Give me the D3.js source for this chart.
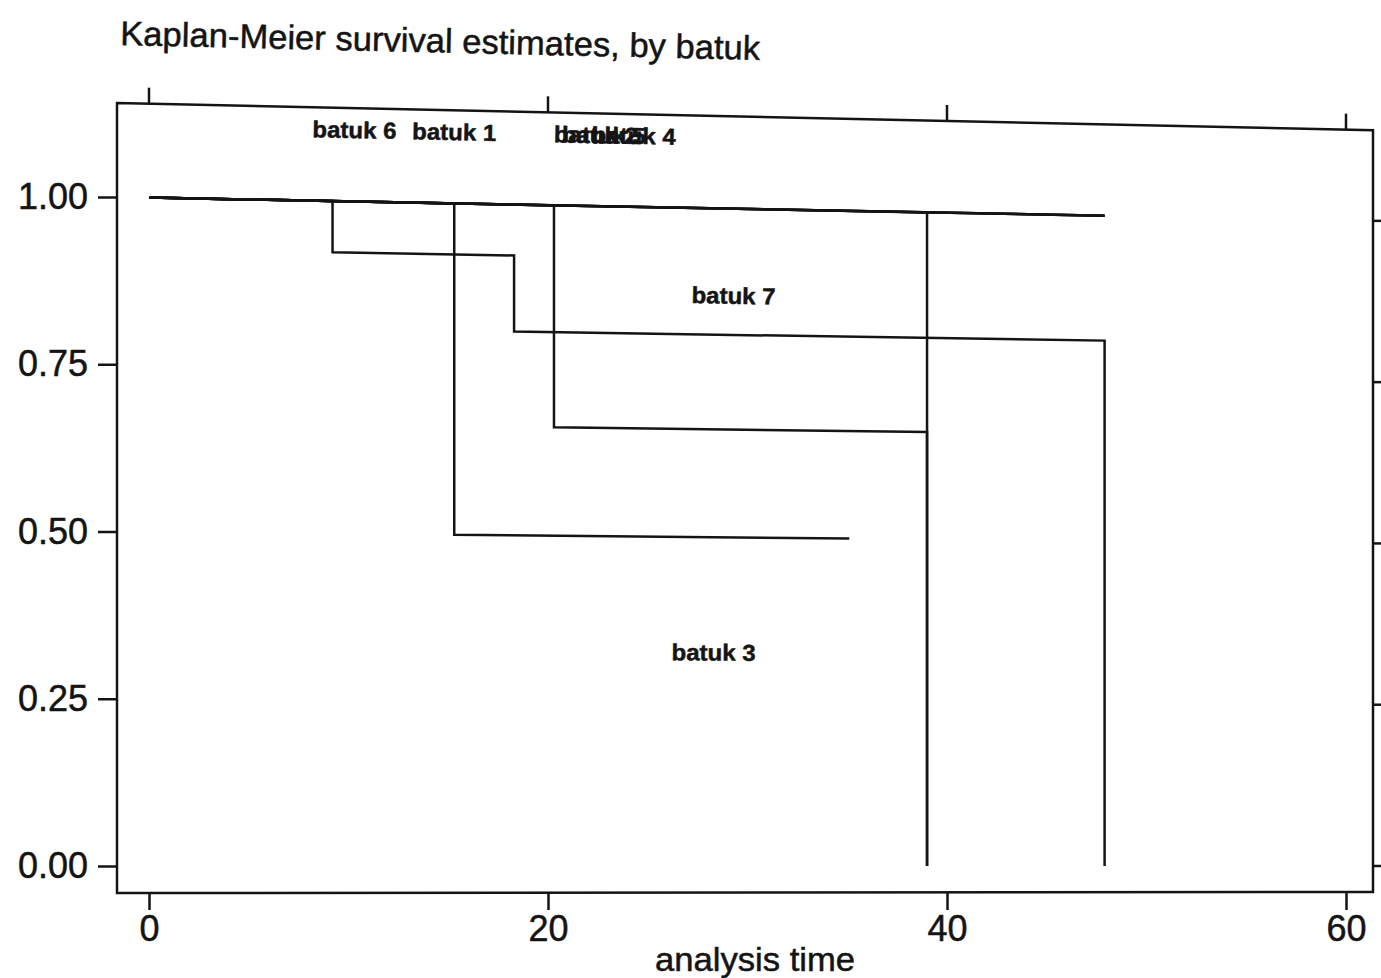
<!DOCTYPE html>
<html>
<head>
<meta charset="utf-8">
<script src="https://cdn.jsdelivr.net/npm/d3@7"></script>
<style>
  html, body { margin: 0; padding: 0; background: #fff; }
  svg { display: block; }
  text { font-family: "Liberation Sans", Arial, Helvetica, sans-serif; fill: #141414; stroke: #141414; stroke-width: 0.5px; }
</style>
</head>
<body>
<svg id="chart" width="1381" height="978"></svg>
<script>
// Kaplan-Meier survival estimates, one step curve per cough group (batuk)
const groupNames = ["batuk 1", "batuk 2", "batuk 3", "batuk 4", "batuk 5", "batuk 6", "batuk 7"];
// failure times (analysis time) and the survival estimate right after each failure
const eventTimes = [[15.3], [20.3, 39.0], [39.0], [], [], [9.2, 18.3, 47.9], []];
const survivalAfter = [[0.50], [0.664, 0], [0], [], [], [0.923, 0.808, 0], []];
// last follow-up time of each group
const followUpEnd = [35.1, 39.0, 39.0, 47.9, 47.9, 47.9, 47.9];
// where each group's name is printed (analysis time, survival level)
const labelTimes = [15.3, 22.4, 28.3, 24.3, 22.8, 10.3, 29.3];
const labelLevels = [1.108, 1.108, 0.325, 1.108, 1.108, 1.108, 0.868];

const xTicks = [0, 20, 40, 60];
const yTicks = [0, 0.25, 0.5, 0.75, 1];
const titleText = "Kaplan-Meier survival estimates, by batuk";
const xTitle = "analysis time";

const svg = d3.select("#chart");
const frame = { left: 117, right: 1373, top: 103, bottom: 893 };
const x = d3.scaleLinear().domain([0, 60]).range([149, 1346]);
const y = d3.scaleLinear().domain([0, 1]).range([866, 197]);
const ink = "#141414";
const lw = 2.5;

// the printed plot drifts slightly downward to the right, more so higher up
const tilt = 0.019;
function level(py) { return (y(0) - py) / (y(0) - y(1)); }
function drift(px, py) { return tilt * level(py) * (px - frame.left); }
function warp(px, py) { return [px, py + drift(px, py)]; }
function angleAt(py) { return Math.atan(tilt * level(py)) * 180 / Math.PI; }

// title
const tx = 120, ty = 45;
svg.append("text")
  .attr("x", tx).attr("y", ty)
  .attr("font-size", 34)
  .attr("textLength", 640).attr("lengthAdjust", "spacingAndGlyphs")
  .attr("transform", `rotate(${angleAt(ty)},${tx},${ty})`)
  .text(titleText);

// plot frame
const corners = [
  warp(frame.left, frame.top), warp(frame.right, frame.top),
  warp(frame.right, frame.bottom), warp(frame.left, frame.bottom)
];
svg.append("path")
  .attr("d", d3.line()(corners) + "Z")
  .attr("fill", "none").attr("stroke", ink).attr("stroke-width", lw);

// left axis
const gl = svg.append("g").attr("transform", `translate(${frame.left},0)`)
  .call(d3.axisLeft(y).tickValues(yTicks).tickFormat(d3.format(".2f")).tickSize(19).tickPadding(10));
gl.select(".domain").remove();
gl.selectAll("line").attr("stroke", ink).attr("stroke-width", lw);
gl.selectAll("text").attr("font-size", 36).attr("fill", ink)
  .attr("font-family", '"Liberation Sans", Arial, sans-serif')
  .attr("textLength", 70).attr("lengthAdjust", "spacingAndGlyphs");

// right axis
const gr = svg.append("g").attr("transform", `translate(${frame.right},0)`)
  .call(d3.axisRight(y).tickValues(yTicks).tickFormat("").tickSize(14));
gr.select(".domain").remove();
gr.selectAll(".tick").attr("transform", d => `translate(0,${warp(frame.right, y(d))[1]})`);
gr.selectAll("line").attr("stroke", ink).attr("stroke-width", lw);

// bottom axis
const gb = svg.append("g").attr("transform", `translate(0,${frame.bottom})`)
  .call(d3.axisBottom(x).tickValues(xTicks).tickFormat(d3.format("d")).tickSize(17).tickPadding(5));
gb.select(".domain").remove();
gb.selectAll("line").attr("stroke", ink).attr("stroke-width", lw);
gb.selectAll("text").attr("font-size", 36).attr("fill", ink)
  .attr("font-family", '"Liberation Sans", Arial, sans-serif');

// top axis
const gt = svg.append("g").attr("transform", `translate(0,${frame.top})`)
  .call(d3.axisTop(x).tickValues(xTicks).tickFormat("").tickSize(16));
gt.select(".domain").remove();
gt.selectAll(".tick").attr("transform", d => `translate(${x(d)},${drift(x(d), frame.top)})`);
gt.selectAll("line").attr("stroke", ink).attr("stroke-width", lw);

// x axis title
svg.append("text")
  .attr("x", 755).attr("y", 971)
  .attr("text-anchor", "middle")
  .attr("font-size", 33)
  .attr("textLength", 200).attr("lengthAdjust", "spacingAndGlyphs")
  .text(xTitle);

// survival step curves
const line = d3.line();
groupNames.forEach((name, i) => {
  const pts = [[0, 1]];
  let s = 1;
  eventTimes[i].forEach((t, j) => {
    pts.push([t, s]);
    s = survivalAfter[i][j];
    pts.push([t, s]);
  });
  if (followUpEnd[i] > pts[pts.length - 1][0]) pts.push([followUpEnd[i], s]);
  const px = pts.map(([t, v]) => warp(x(t), y(v)));
  svg.append("path")
    .attr("class", "km")
    .attr("d", line(px))
    .attr("fill", "none")
    .attr("stroke", ink)
    .attr("stroke-width", lw);
});

// group labels
groupNames.forEach((name, i) => {
  const [lx, ly] = warp(x(labelTimes[i]), y(labelLevels[i]));
  svg.append("text")
    .attr("x", lx).attr("y", ly).attr("dy", "0.36em")
    .attr("text-anchor", "middle")
    .attr("font-size", 23).attr("font-weight", "bold")
    .attr("textLength", 84).attr("lengthAdjust", "spacingAndGlyphs")
    .attr("transform", `rotate(${angleAt(ly)},${lx},${ly})`)
    .text(name);
});
</script>
</body>
</html>
